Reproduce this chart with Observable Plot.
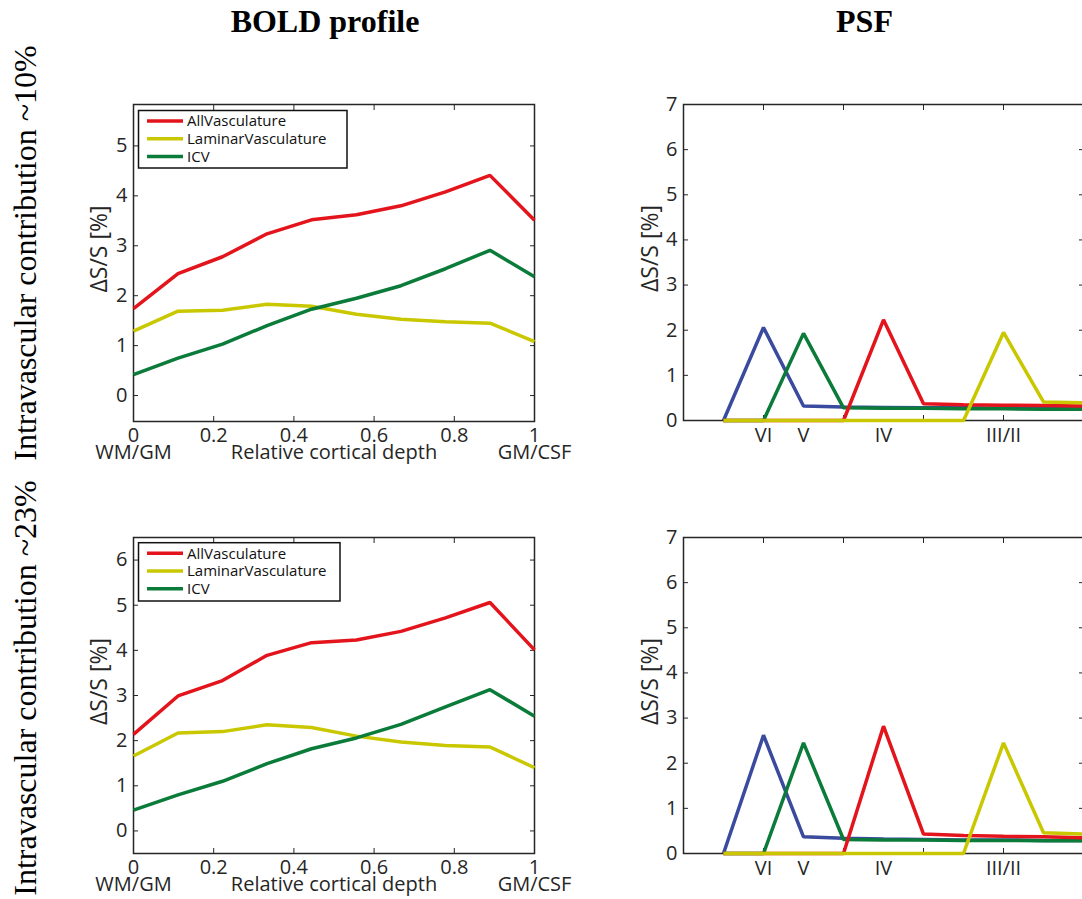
<!DOCTYPE html>
<html>
<head>
<meta charset="utf-8">
<script src="https://cdn.jsdelivr.net/npm/d3@7"></script>
<script src="https://cdn.jsdelivr.net/npm/@observablehq/plot@0.6"></script>
<style>
  html, body { margin: 0; padding: 0; background: #fff; overflow: hidden; }
  #fig { position: relative; width: 1082px; height: 899px; overflow: hidden; background: #fff; }
  #fig > svg { position: absolute; }
</style>
</head>
<body>
<div id="fig"></div>
<script>
// ---- BOLD laminar profiles (relative cortical depth, 10 samples) ----
const depth = [0, 0.111, 0.222, 0.333, 0.444, 0.556, 0.667, 0.778, 0.889, 1];
const seriesNames = ["AllVasculature", "LaminarVasculature", "ICV"];
const seriesColors = ["#e3141b", "#c9c800", "#0b7b3a"];

// intravascular contribution ~10%
const bold10All     = [1.74, 2.44, 2.78, 3.24, 3.52, 3.62, 3.80, 4.08, 4.41, 3.51];
const bold10Laminar = [1.29, 1.69, 1.71, 1.83, 1.79, 1.63, 1.53, 1.48, 1.45, 1.08];
const bold10ICV     = [0.42, 0.75, 1.03, 1.40, 1.73, 1.95, 2.20, 2.54, 2.91, 2.38];
// intravascular contribution ~23%
const bold23All     = [2.14, 2.99, 3.33, 3.89, 4.17, 4.23, 4.42, 4.72, 5.06, 4.01];
const bold23Laminar = [1.66, 2.17, 2.20, 2.35, 2.29, 2.10, 1.97, 1.89, 1.86, 1.40];
const bold23ICV     = [0.46, 0.80, 1.10, 1.49, 1.82, 2.06, 2.36, 2.75, 3.13, 2.54];

const depthTicks = [0, 0.2, 0.4, 0.6, 0.8, 1];
const depthLabels = ["WM/GM", "Relative cortical depth", "GM/CSF"];
const depthLabelPos = [0, 0.5, 1];

// ---- point spread functions per activated layer ----
const psfPos = [1, 2, 3, 4, 5, 6, 7, 8, 9, 10];
const psfTicks = [2, 4, 6, 8, 10];
const layerNames = ["VI", "V", "IV", "III/II"];
const layerPos = [2, 3, 5, 8];
const layerColors = ["#3a4a9e", "#0b7b3a", "#e3141b", "#c9c800"];

const psf10VI   = [0, 2.06, 0.32, 0.30, 0.29, 0.28, 0.28, 0.27, 0.27, 0.26];
const psf10V    = [0, 0, 1.93, 0.28, 0.27, 0.27, 0.26, 0.26, 0.25, 0.25];
const psf10IV   = [0, 0, 0, 0, 2.23, 0.37, 0.35, 0.34, 0.33, 0.32];
const psf10III  = [0, 0, 0, 0, 0, 0, 0, 1.95, 0.41, 0.39];

const psf23VI   = [0, 2.62, 0.37, 0.34, 0.32, 0.31, 0.30, 0.30, 0.29, 0.29];
const psf23V    = [0, 0, 2.45, 0.31, 0.30, 0.30, 0.29, 0.29, 0.28, 0.28];
const psf23IV   = [0, 0, 0, 0, 2.82, 0.43, 0.40, 0.38, 0.37, 0.35];
const psf23III  = [0, 0, 0, 0, 0, 0, 0, 2.45, 0.46, 0.43];

const yLabel = "ΔS/S [%]";
const columnTitles = ["BOLD profile", "PSF"];
const rowLabels = ["Intravascular contribution ~10%", "Intravascular contribution ~23%"];

const ink = "#262626";
const sansFont = "'Open Sans', sans-serif";
const fig = document.getElementById("fig");
const plain = d => String(d);

function toRows(xs, names, seriesList) {
  const rows = [];
  seriesList.forEach((vals, s) => vals.forEach((v, i) => rows.push({x: xs[i], value: v, series: names[s]})));
  return rows;
}

// MATLAB-style box: inward ticks on all four sides, labels on left and bottom
function boxAxes(xTicks, yTicks, xLabels) {
  return [
    Plot.frame({stroke: ink, strokeWidth: 1.5}),
    Plot.axisY({anchor: "left", ticks: yTicks, tickSize: -5, tickPadding: 11, tickFormat: plain, label: null, fontSize: 20, stroke: ink, fill: ink}),
    Plot.axisY({anchor: "right", ticks: yTicks, tickSize: -5, tickFormat: () => "", label: null, stroke: ink}),
    Plot.axisX({anchor: "bottom", ticks: xTicks, tickSize: -5, tickPadding: 11, label: null, fontSize: 20, stroke: ink, fill: ink,
      tickFormat: xLabels ? plain : () => ""}),
    Plot.axisX({anchor: "top", ticks: xTicks, tickSize: -5, tickFormat: () => "", label: null, stroke: ink})
  ];
}

function yTitle(dx) {
  return Plot.text([yLabel], {frameAnchor: "left", rotate: -90, dx, dy: -14, fontSize: 23,
    textAnchor: "middle", lineAnchor: "middle", fill: ink});
}

function legend(svg, box) {
  const g = d3.select(svg).append("g").attr("text-anchor", "start");
  g.append("rect").attr("x", box.x).attr("y", box.y).attr("width", box.w).attr("height", box.h)
    .attr("fill", "#fff").attr("stroke", "#111").attr("stroke-width", 1.5);
  seriesNames.forEach((name, i) => {
    const cy = box.y + 10.5 + i * 17.8;
    g.append("line").attr("x1", box.x + 8.5).attr("x2", box.x + 44.5).attr("y1", cy).attr("y2", cy)
      .attr("stroke", seriesColors[i]).attr("stroke-width", 3.5);
    g.append("text").attr("x", box.x + 48.5).attr("y", cy).attr("dy", "0.36em").attr("text-anchor", "start")
      .attr("font-family", sansFont).attr("font-size", 15).attr("fill", "#111").text(name);
  });
}

function boldPanel({left, top, width, height, margins, yDomain, yTicks, series, legendBox}) {
  const rows = toRows(depth, seriesNames, series);
  const svg = Plot.plot({
    width, height,
    marginLeft: margins[0], marginRight: margins[1], marginTop: margins[2], marginBottom: margins[3],
    style: {fontFamily: sansFont, fontSize: "20px", color: ink, background: "transparent", overflow: "visible"},
    x: {domain: [0, 1]},
    y: {domain: yDomain},
    color: {domain: seriesNames, range: seriesColors},
    marks: [
      ...boxAxes(depthTicks, yTicks, true),
      Plot.line(rows, {x: "x", y: "value", z: "series", stroke: "series", strokeWidth: 3.5, strokeLinejoin: "miter", strokeLinecap: "butt"}),
      Plot.text(depthLabels, {x: depthLabelPos, text: d => d, frameAnchor: "bottom", dy: 23, lineAnchor: "top", fontSize: 20, fill: ink}),
      yTitle(-34)
    ]
  });
  legend(svg, legendBox);
  svg.style.left = left + "px";
  svg.style.top = top + "px";
  fig.appendChild(svg);
}

function psfPanel({left, top, width, height, margins, series}) {
  const rows = toRows(psfPos, layerNames, series);
  const svg = Plot.plot({
    width, height,
    marginLeft: margins[0], marginRight: margins[1], marginTop: margins[2], marginBottom: margins[3],
    style: {fontFamily: sansFont, fontSize: "20px", color: ink, background: "transparent", overflow: "visible"},
    x: {domain: [0, 10]},
    y: {domain: [0, 7]},
    color: {domain: layerNames, range: layerColors},
    marks: [
      ...boxAxes(psfTicks, [0, 1, 2, 3, 4, 5, 6, 7], false),
      Plot.line(rows, {x: "x", y: "value", z: "series", stroke: "series", strokeWidth: 3.5, strokeLinejoin: "miter", strokeLinecap: "butt"}),
      Plot.text(layerNames, {x: layerPos, text: d => d, frameAnchor: "bottom", dy: 7, lineAnchor: "top", fontSize: 20, fill: ink}),
      yTitle(-33)
    ]
  });
  svg.style.left = left + "px";
  svg.style.top = top + "px";
  fig.appendChild(svg);
}

boldPanel({left: 0, top: 0, width: 600, height: 470, margins: [133, 66, 104, 49],
  yDomain: [-0.52, 5.83], yTicks: [0, 1, 2, 3, 4, 5],
  series: [bold10All, bold10Laminar, bold10ICV],
  legendBox: {x: 138.5, y: 110.5, w: 208.5, h: 57.5}});

boldPanel({left: 0, top: 470, width: 600, height: 429, margins: [133, 66, 67, 46],
  yDomain: [-0.5, 6.5], yTicks: [0, 1, 2, 3, 4, 5, 6],
  series: [bold23All, bold23Laminar, bold23ICV],
  legendBox: {x: 138.5, y: 72.7, w: 201.5, h: 58.3}});

psfPanel({left: 600, top: 0, width: 500, height: 470, margins: [83, 17, 104, 50],
  series: [psf10VI, psf10V, psf10IV, psf10III]});

psfPanel({left: 600, top: 470, width: 500, height: 429, margins: [83, 17, 67, 46],
  series: [psf23VI, psf23V, psf23IV, psf23III]});

// column titles and row labels
const overlay = d3.create("svg").attr("width", 1082).attr("height", 899)
  .style("left", "0px").style("top", "0px");
const serif = "'Liberation Serif', 'Times New Roman', serif";
[[325, columnTitles[0]], [864.5, columnTitles[1]]].forEach(([x, t]) => {
  overlay.append("text").attr("x", x).attr("y", 32).attr("text-anchor", "middle")
    .attr("font-family", serif).attr("font-weight", "bold").attr("font-size", 32).attr("fill", "#000").text(t);
});
[[253, rowLabels[0]], [688, rowLabels[1]]].forEach(([y, t]) => {
  overlay.append("text").attr("transform", `translate(36,${y}) rotate(-90)`).attr("text-anchor", "middle")
    .attr("font-family", serif).attr("font-size", 32).attr("fill", "#000").text(t);
});
fig.appendChild(overlay.node());
</script>
</body>
</html>
